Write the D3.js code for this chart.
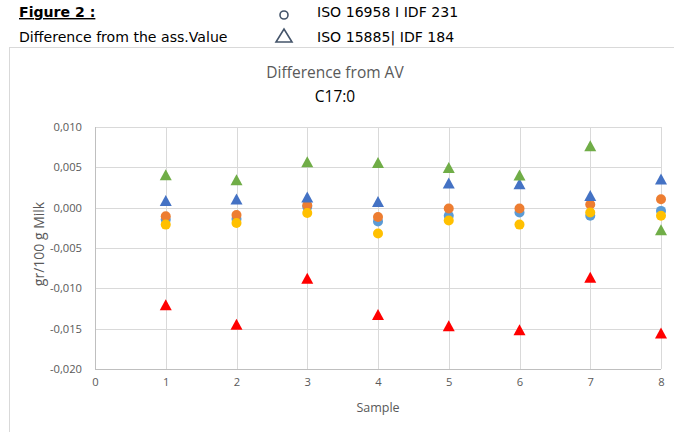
<!DOCTYPE html>
<html><head><meta charset="utf-8">
<script src="https://cdn.jsdelivr.net/npm/d3@7"></script>
<style>body{margin:0;background:#fff}svg{display:block}</style>
</head><body>
<script>
const samples = [1,2,3,4,5,6,7,8];
const xTicks = [0,1,2,3,4,5,6,7,8];
const yTicks = [0.010,0.005,0.000,-0.005,-0.010,-0.015,-0.020];
const circLightBlue = [-0.00148,-0.0014,0.0001,-0.0017,-0.0010,-0.0006,-0.0010,-0.0004];
const circOrange = [-0.00107,-0.0009,0.0003,-0.00115,-0.0001,-0.0001,0.0004,0.00104];
const circYellow = [-0.0021,-0.0019,-0.00066,-0.0032,-0.0016,-0.0021,-0.0006,-0.0010];
const triBlue = [0.00083,0.0010,0.00125,0.0007,0.0030,0.0029,0.00145,0.0035];
const triGreen = [0.00402,0.0034,0.00563,0.00555,0.00493,0.0040,0.0076,-0.0028];
const triRed = [-0.0121,-0.0145,-0.0088,-0.0133,-0.0147,-0.0152,-0.0087,-0.0156];

const W=674,H=432;
const svg=d3.select("body").append("svg").attr("width",W).attr("height",H);
const x=d3.scaleLinear().domain([0,8]).range([95,661]);
const y=d3.scaleLinear().domain([-0.020,0.010]).range([369,127]);
const fmt=v=>d3.format(".3f")(v).replace(".",",").replace("−","-");

// chart border
svg.append("rect").attr("x",9.5).attr("y",47.5).attr("width",700).attr("height",420)
  .attr("fill","none").attr("stroke","#d9d9d9");

// header
const hf="DejaVu Sans", hs=14.1;
svg.append("text").attr("x",19).attr("y",17).attr("font-family",hf).attr("font-size",hs)
  .attr("font-weight","bold").attr("text-decoration","underline").text("Figure 2 :");
svg.append("text").attr("x",19).attr("y",42).attr("font-family",hf).attr("font-size",hs)
  .text("Difference from the ass.Value");
svg.append("circle").attr("cx",284).attr("cy",15).attr("r",4).attr("fill","none")
  .attr("stroke","#44546A").attr("stroke-width",1.6);
svg.append("path").attr("d","M276,42 L292,42 L284,29 Z").attr("fill","none")
  .attr("stroke","#44546A").attr("stroke-width",1.6);
svg.append("text").attr("x",317).attr("y",17).attr("font-family",hf).attr("font-size",hs).text("ISO 16958 I IDF 231");
svg.append("text").attr("x",317).attr("y",42).attr("font-family",hf).attr("font-size",hs).text("ISO 15885| IDF 184");

// titles
const cf="Open Sans";
svg.append("text").attr("x",335).attr("y",78).attr("text-anchor","middle").attr("font-family",cf)
  .attr("font-size",15.5).attr("fill","#595959").text("Difference from AV");
svg.append("text").attr("x",335).attr("y",102).attr("text-anchor","middle").attr("font-family",cf)
  .attr("font-size",15.5).attr("fill","#000").text("C17:0");

// grid
const g=svg.append("g");
g.selectAll("line.h").data(yTicks).join("line").attr("x1",95).attr("x2",661)
  .attr("y1",d=>Math.round(y(d))+0.5).attr("y2",d=>Math.round(y(d))+0.5)
  .attr("stroke",d=>d===-0.020?"#bfbfbf":"#d9d9d9");
g.selectAll("line.v").data(xTicks).join("line").attr("y1",127).attr("y2",369)
  .attr("x1",d=>Math.round(x(d))+0.5).attr("x2",d=>Math.round(x(d))+0.5)
  .attr("stroke",d=>d===0?"#bfbfbf":"#d9d9d9");

// axes labels via d3 axes
const yAxis=svg.append("g").attr("transform","translate(95,0)")
  .call(d3.axisLeft(y).tickValues(yTicks).tickFormat(fmt).tickSize(0).tickPadding(13));
const xAxis=svg.append("g").attr("transform","translate(0,369)")
  .call(d3.axisBottom(x).tickValues(xTicks).tickFormat(d3.format("d")).tickSize(0).tickPadding(9));
[yAxis,xAxis].forEach(a=>{a.select(".domain").remove();
  a.selectAll("text").attr("font-family",cf).attr("font-size",11.2).attr("fill","#595959");});

svg.append("text").attr("transform","translate(44,244) rotate(-90)").attr("text-anchor","middle")
  .attr("font-family",cf).attr("font-size",14).attr("fill","#595959").text("gr/100 g Milk");
svg.append("text").attr("x",378).attr("y",412).attr("text-anchor","middle")
  .attr("font-family",cf).attr("font-size",12.5).attr("fill","#595959").text("Sample");

// markers
function circles(vals,color){
  svg.append("g").selectAll("circle").data(vals).join("circle")
    .attr("cx",(d,i)=>x(samples[i])).attr("cy",d=>y(d)).attr("r",5).attr("fill",color);
}
function tris(vals,color){
  svg.append("g").selectAll("path").data(vals).join("path")
    .attr("d",(d,i)=>{const cx=x(samples[i]),cy=y(d);return `M${cx-6},${cy+5} L${cx+6},${cy+5} L${cx},${cy-6} Z`;})
    .attr("fill",color);
}
circles(circLightBlue,"#5B9BD5");
circles(circOrange,"#ED7D31");
circles(circYellow,"#FFC000");
tris(triBlue,"#4472C4");
tris(triGreen,"#70AD47");
tris(triRed,"#FF0000");
</script>
</body></html>
